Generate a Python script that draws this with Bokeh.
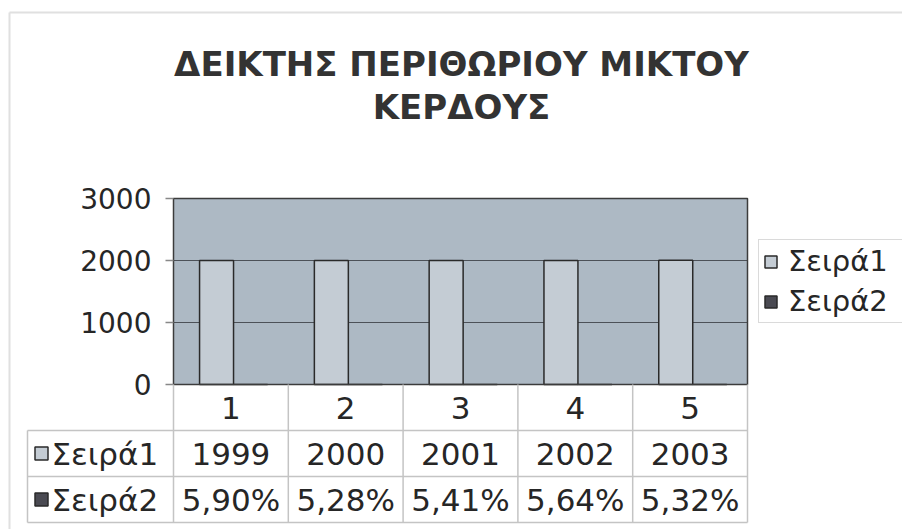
from bokeh.plotting import figure
from bokeh.models import Range1d, ColumnDataSource, Legend, LegendItem
from bokeh.transform import dodge
from bokeh.embed import file_html
from bokeh.resources import INLINE
from bokeh.core.properties import value

# ---------------- data ----------------
title_lines = ["ΔΕΙΚΤΗΣ ΠΕΡΙΘΩΡΙΟΥ ΜΙΚΤΟΥ", "ΚΕΡΔΟΥΣ"]
categories = ["1", "2", "3", "4", "5"]
series_names = ["Σειρά1", "Σειρά2"]
series1 = [1999, 2000, 2001, 2002, 2003]
series2 = [0.0590, 0.0528, 0.0541, 0.0564, 0.0532]
y_ticks = [0, 1000, 2000, 3000]

# ---------------- style / layout (canvas pixels) ----------------
FONT = "DejaVu Sans"
TEXT = "#262626"
PLOT_BG = "#adb9c4"
S1_COLOR = "#c4ccd4"
S2_COLOR = "#4a4a52"
TABLE_LINE = "#c4c4c4"
EDGE = "#2a2a2a"
W, H = 902, 529
PA_L, PA_R, PA_T, PA_B = 173, 747, 198, 384   # plot area
ROW_PX = 46
TABLE_LEFT = 27

n = len(categories)
x_pos = list(range(1, n + 1))
ppu = (PA_R - PA_L) / n                               # pixels per category
vpp = (y_ticks[-1] - y_ticks[0]) / (PA_B - PA_T)      # value per pixel

x_range = Range1d(0.5 - PA_L / ppu, 0.5 + (W - PA_L) / ppu)
y_range = Range1d(y_ticks[0] - (H - PA_B) * vpp, y_ticks[-1] + PA_T * vpp)

p = figure(width=W, height=H, x_range=x_range, y_range=y_range, output_backend="svg",
           toolbar_location=None, x_axis_location=None, y_axis_location=None, title=None,
           min_border_left=0, min_border_right=0, min_border_top=0, min_border_bottom=0)
p.extra_y_ranges = {"row": Range1d(3 - (H - PA_B) / ROW_PX, 3 + PA_B / ROW_PX),
                    "py": Range1d(H, 0)}
p.extra_x_ranges = {"px": Range1d(0, W)}
p.grid.visible = False
p.outline_line_color = None
p.background_fill_color = "white"
p.border_fill_color = "white"

# faint chart-area border
p.segment(x0=[9, 9], y0=[12, 12], x1=[9, W], y1=[H, 12], x_range_name="px", y_range_name="py",
          line_color="#e0e0e0", line_width=2)

# ---------------- title ----------------
p.text(x=[(PA_L + PA_R) / 2 + 1] * 2, y=[63, 106], text=title_lines, x_range_name="px", y_range_name="py",
       text_font=value(FONT), text_font_size="34px", text_font_style="bold", text_color="#333333",
       text_align="center", text_baseline="alphabetic")

# ---------------- plot area ----------------
x_lo, x_hi = x_pos[0] - 0.5, x_pos[-1] + 0.5
p.quad(left=[x_lo], right=[x_hi], bottom=[y_ticks[0]], top=[y_ticks[-1]],
       fill_color=PLOT_BG, line_color=None)
p.segment(x0=[x_lo] * (len(y_ticks) - 2), y0=y_ticks[1:-1], x1=[x_hi] * (len(y_ticks) - 2), y1=y_ticks[1:-1],
          line_color="#4c5158", line_width=1.2)

src = ColumnDataSource(dict(x=x_pos, s1=series1, s2=series2))
r1 = p.vbar(x=dodge("x", -0.125, range=p.x_range), top="s1", width=0.296, source=src,
            fill_color=S1_COLOR, line_color=EDGE, line_width=1.5)
r2 = p.vbar(x=dodge("x", 0.171, range=p.x_range), top="s2", width=0.296, source=src,
            fill_color=S2_COLOR, line_color=EDGE, line_width=1.5)

p.quad(left=[x_lo], right=[x_hi], bottom=[y_ticks[0]], top=[y_ticks[-1]],
       fill_color=None, line_color="#3c3c3c", line_width=1.5)

# value axis: tick marks and labels
tick_x0 = x_lo - 8 / ppu
p.segment(x0=[tick_x0] * len(y_ticks), y0=y_ticks, x1=[x_lo] * len(y_ticks), y1=y_ticks,
          line_color="#888888", line_width=1.5)
p.text(x=[x_lo - 22 / ppu] * len(y_ticks), y=y_ticks, text=[str(t) for t in y_ticks],
       text_font=value(FONT), text_font_size="28px", text_color=TEXT,
       text_align="right", text_baseline="middle")

# ---------------- legend ----------------
legend = Legend(items=[LegendItem(label=series_names[0], renderers=[r1]),
                       LegendItem(label=series_names[1], renderers=[r2])],
                location=(758, H - 323), label_text_font=FONT, label_text_font_size="29px",
                label_text_color=TEXT, border_line_color="#b5b5b5", border_line_width=1.5,
                background_fill_color="white", background_fill_alpha=1.0,
                glyph_width=15, glyph_height=15, padding=4, spacing=6, label_standoff=10,
                label_width=112, margin=0)
p.add_layout(legend)

# ---------------- data table ----------------
x_left = x_lo - (PA_L - TABLE_LEFT) / ppu
vx = [i + 0.5 for i in range(n + 1)]
p.segment(x0=vx + [x_left] + [x_left] * 3,
          y0=[0] * len(vx) + [0] + [2, 1, 0],
          x1=vx + [x_left] + [x_hi] * 3,
          y1=[3] * len(vx) + [2] + [2, 1, 0],
          y_range_name="row", line_color=TABLE_LINE, line_width=1.5)

pct_labels = [("%.2f%%" % (v * 100)).replace(".", ",") for v in series2]
tsrc = ColumnDataSource(dict(
    x=x_pos * 3,
    y=[2.5] * n + [1.5] * n + [0.5] * n,
    txt=categories + [str(v) for v in series1] + pct_labels,
))
p.text(x="x", y="y", text="txt", source=tsrc, y_range_name="row",
       text_font=value(FONT), text_font_size="31px", text_color=TEXT,
       text_align="center", text_baseline="middle")

ksrc = ColumnDataSource(dict(kx=[x_lo - (PA_L - 41) / ppu] * 2, lx=[x_lo - (PA_L - 51) / ppu] * 2,
                             y=[1.5, 0.5], name=series_names, color=[S1_COLOR, S2_COLOR]))
p.scatter(x="kx", y="y", marker="square", size=13, fill_color="color", line_color=EDGE,
          line_width=1.5, source=ksrc, y_range_name="row")
p.text(x="lx", y="y", text="name", source=ksrc, y_range_name="row",
       text_font=value(FONT), text_font_size="31px", text_color=TEXT,
       text_align="left", text_baseline="middle")

open("out.html", "w").write(file_html(p, INLINE))
